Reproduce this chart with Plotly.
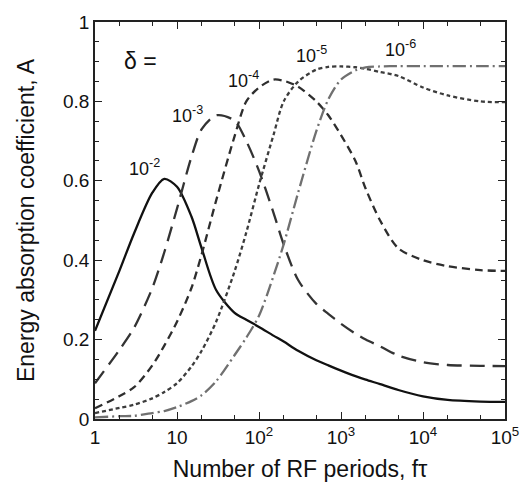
import plotly.graph_objects as go

# Number of RF periods, f*tau (common sampling for all curves)
periods = [1, 2, 3, 5, 7, 10, 15, 20, 30, 50, 70, 100, 150, 200, 300, 500, 700,
           1000, 1500, 2000, 3000, 5000, 10000, 20000, 50000, 100000]

# Energy absorption coefficient A for each damping value delta
a_1e2 = [0.222, 0.375, 0.468, 0.570, 0.605, 0.585, 0.510, 0.430, 0.325, 0.268,
         0.250, 0.232, 0.210, 0.195, 0.172, 0.148, 0.135, 0.122, 0.108, 0.099,
         0.088, 0.073, 0.057, 0.048, 0.044, 0.043]
a_1e3 = [0.090, 0.175, 0.230, 0.330, 0.420, 0.530, 0.660, 0.730, 0.765, 0.752,
         0.700, 0.625, 0.520, 0.440, 0.350, 0.290, 0.265, 0.240, 0.215, 0.200,
         0.183, 0.160, 0.143, 0.136, 0.134, 0.133]
a_1e4 = [0.027, 0.058, 0.080, 0.135, 0.185, 0.245, 0.330, 0.415, 0.550, 0.710,
         0.800, 0.835, 0.855, 0.852, 0.837, 0.800, 0.765, 0.715, 0.650, 0.580,
         0.500, 0.430, 0.400, 0.385, 0.375, 0.373]
a_1e5 = [0.015, 0.028, 0.036, 0.052, 0.068, 0.090, 0.132, 0.172, 0.245, 0.370,
         0.470, 0.590, 0.715, 0.800, 0.850, 0.880, 0.887, 0.888, 0.886, 0.882,
         0.874, 0.864, 0.835, 0.815, 0.800, 0.798]
a_1e6 = [0.004, 0.007, 0.008, 0.015, 0.020, 0.030, 0.045, 0.060, 0.095, 0.160,
         0.205, 0.260, 0.360, 0.440, 0.570, 0.725, 0.805, 0.855, 0.878, 0.886,
         0.888, 0.889, 0.889, 0.889, 0.889, 0.889]

x_tickvals = [1, 10, 100, 1000, 10000, 100000]
x_ticktext = ["1", "10", "10<sup>2</sup>", "10<sup>3</sup>", "10<sup>4</sup>", "10<sup>5</sup>"]

series = [
    ("10<sup>-2</sup>", a_1e2, "#111111", "solid", 0.607, 0.633),
    ("10<sup>-3</sup>", a_1e3, "#333333", "15px,8px", 1.13, 0.766),
    ("10<sup>-4</sup>", a_1e4, "#2e2e2e", "8px,5px", 1.81, 0.856),
    ("10<sup>-5</sup>", a_1e5, "#3c3c3c", "4px,3px", 2.64, 0.918),
    ("10<sup>-6</sup>", a_1e6, "#707070", "13px,4px,2px,4px", 3.73, 0.933),
]

fig = go.Figure()
for name, vals, color, dash, lx, ly in series:
    fig.add_trace(go.Scatter(
        x=periods, y=vals, mode="lines", name=name,
        line=dict(color=color, width=2.3, dash=dash, shape="spline", smoothing=0.8),
        showlegend=False,
    ))
    fig.add_annotation(x=lx, y=ly, xref="x", yref="y", text=name, showarrow=False,
                       font=dict(size=18, color="#111111"))

fig.add_annotation(x=0.56, y=0.903, xref="x", yref="y", text="δ =", showarrow=False,
                   font=dict(size=23, color="#111111"))

font_family = "Liberation Sans, Arial, sans-serif"
fig.update_layout(
    width=531, height=491,
    margin=dict(l=95, r=16, t=18, b=72),
    paper_bgcolor="white", plot_bgcolor="white",
    font=dict(family=font_family, size=19, color="#111111"),
    xaxis=dict(
        type="log", range=[0, 5],
        tickvals=x_tickvals, ticktext=x_ticktext,
        ticks="inside", ticklen=7, tickwidth=1, tickcolor="#222222",
        minor=dict(ticks="inside", ticklen=4, tickwidth=1, tickcolor="#222222"),
        showline=True, linecolor="#222222", linewidth=1.5, mirror="ticks",
        showgrid=False, zeroline=False,
        title=dict(text="Number of RF periods, fτ", standoff=14),
    ),
    yaxis=dict(
        range=[0, 1], dtick=0.2, tick0=0,
        ticks="inside", ticklen=7, tickwidth=1, tickcolor="#222222",
        minor=dict(dtick=0.05, ticks="inside", ticklen=4, tickwidth=1, tickcolor="#222222"),
        showline=True, linecolor="#222222", linewidth=1.5, mirror="ticks",
        showgrid=False, zeroline=False,
        title=dict(text="Energy absorption coefficient, A", standoff=22),
    ),
)

fig.write_html("out.html")
